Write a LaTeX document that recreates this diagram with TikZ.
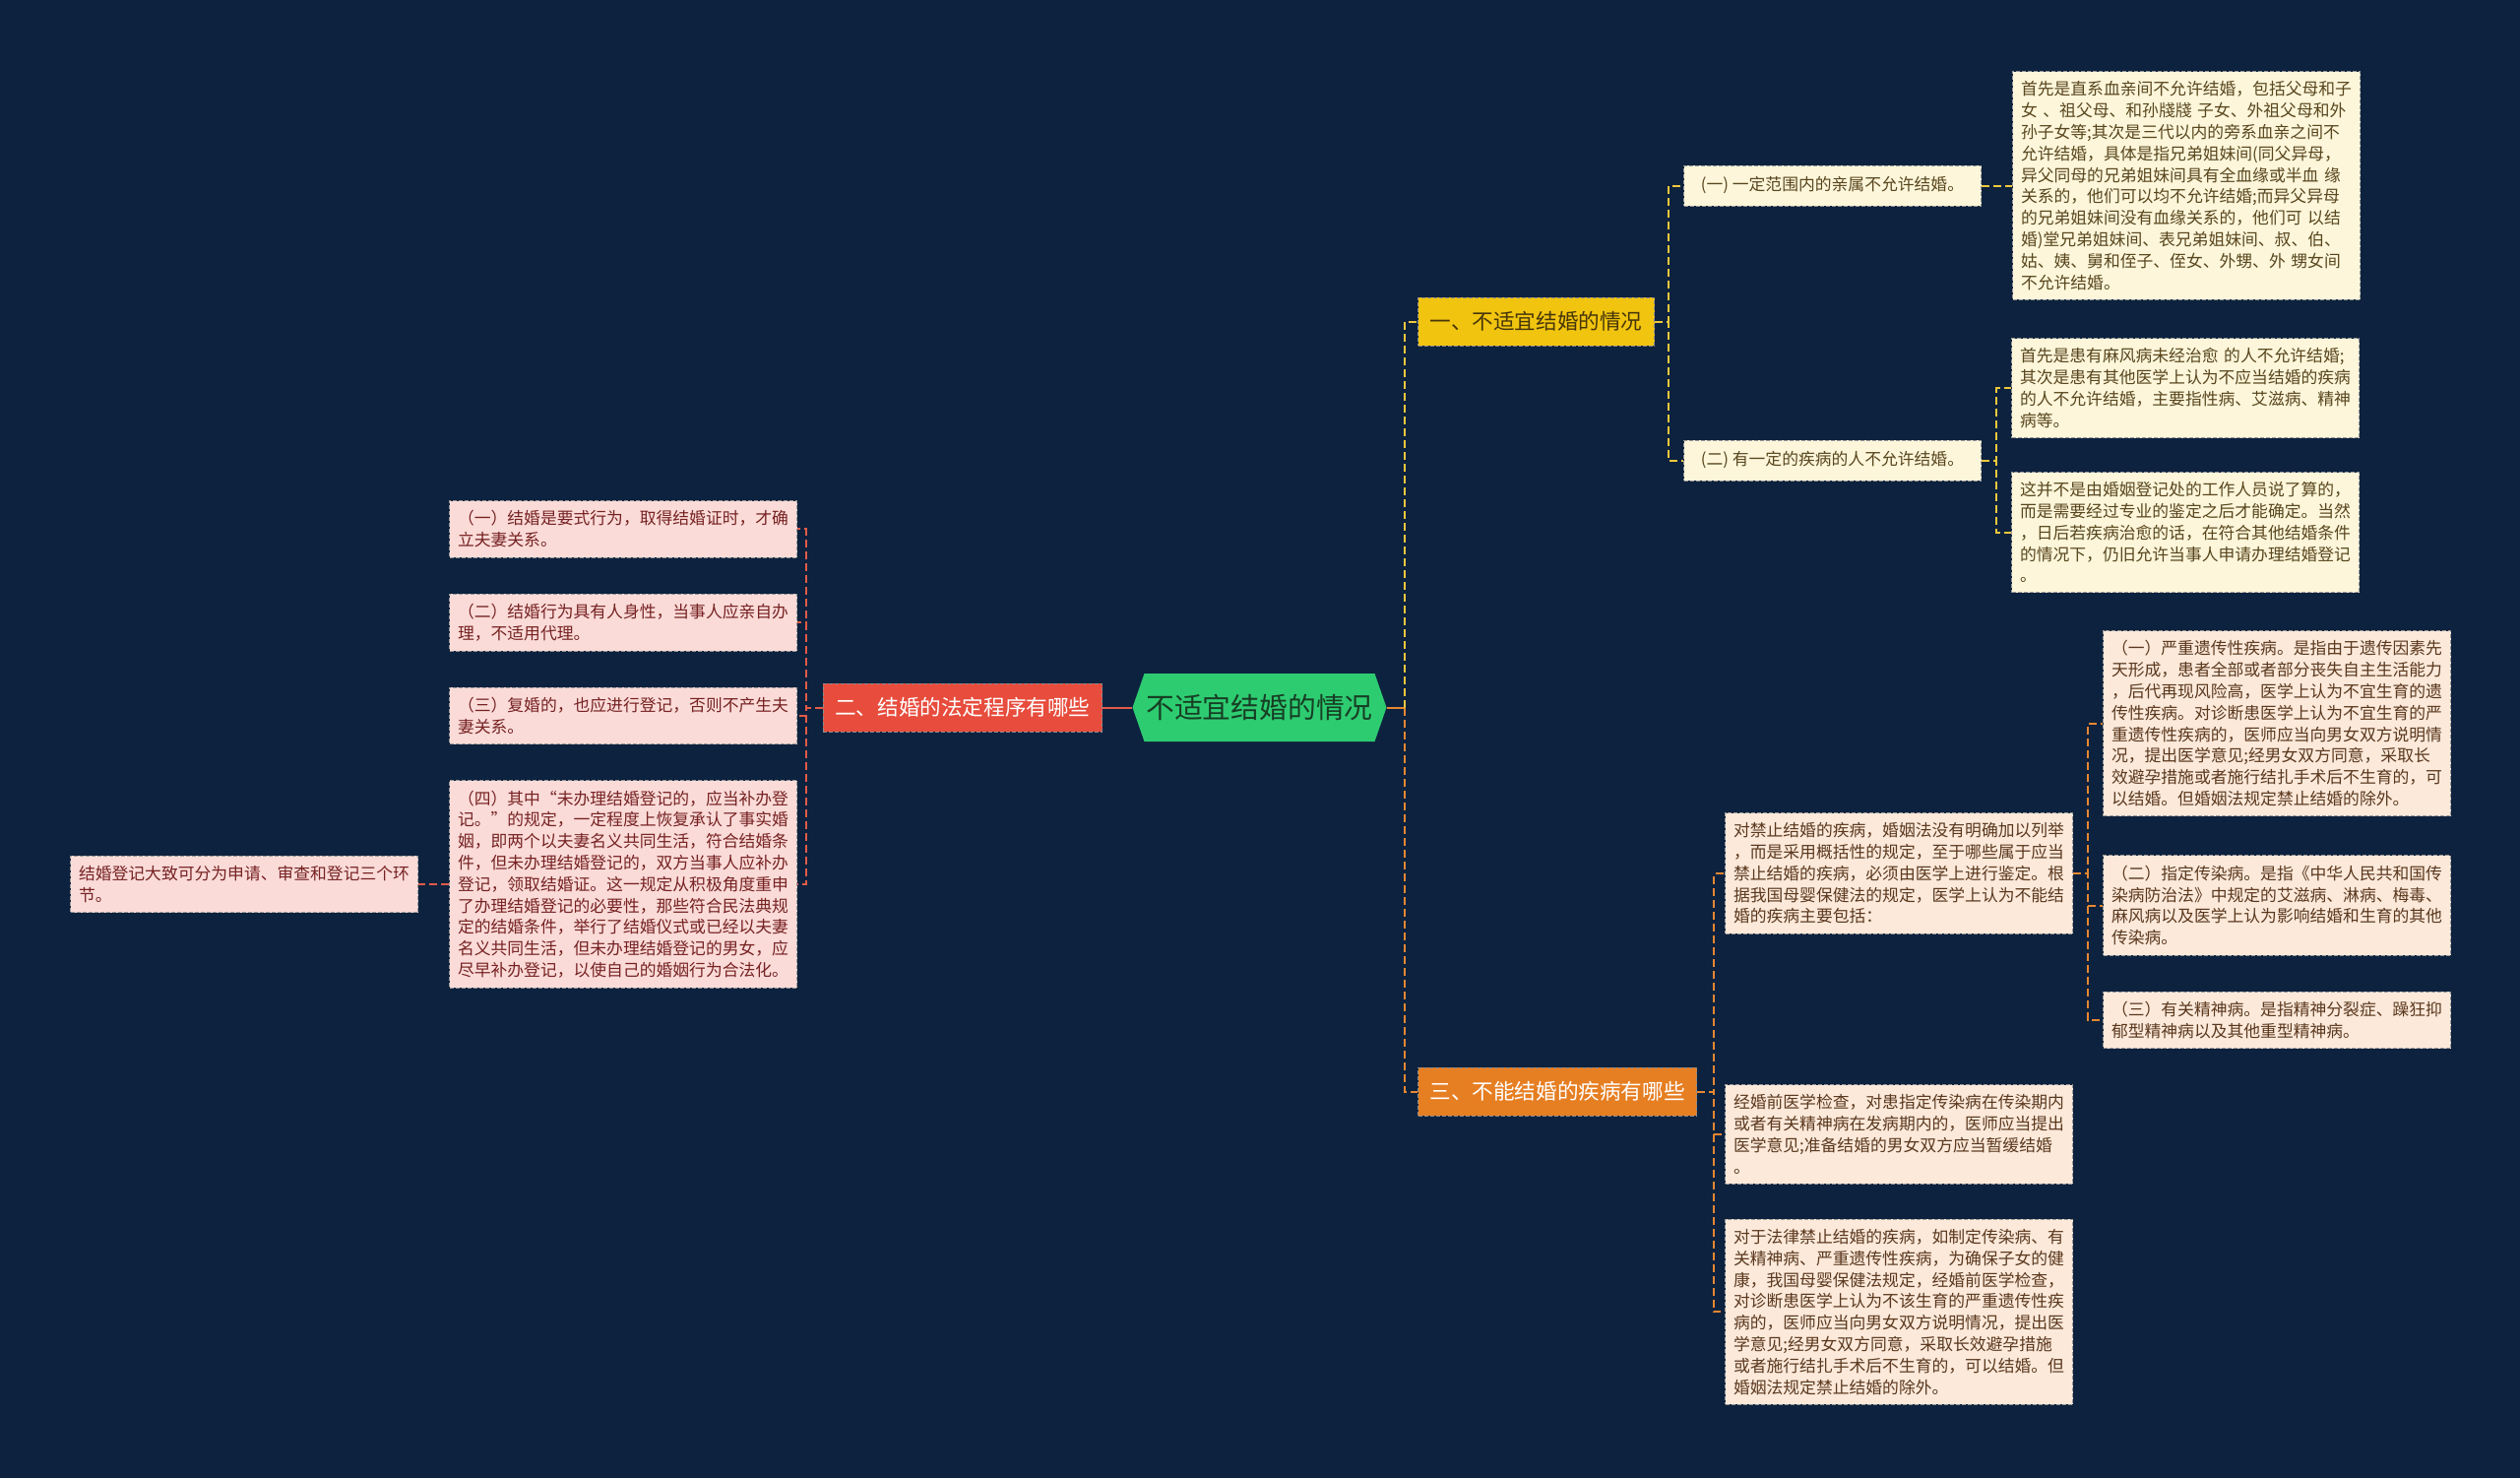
\documentclass[tikz,border=0pt]{standalone}
\usepackage{fontspec}
\setmainfont{Noto Sans CJK SC}
\usepackage{xcolor}
\usepackage{tikz}
\usetikzlibrary{positioning}
\definecolor{navy}{RGB}{13,34,62}
\definecolor{hubgreen}{RGB}{46,204,113}
\definecolor{hubink}{RGB}{22,62,36}
\definecolor{redfill}{RGB}{231,76,60}
\definecolor{redline}{RGB}{226,91,72}
\definecolor{yelfill}{RGB}{241,196,15}
\definecolor{yelink}{RGB}{70,54,10}
\definecolor{yelline}{RGB}{238,200,60}
\definecolor{orafill}{RGB}{230,126,34}
\definecolor{oraline}{RGB}{230,135,50}
\definecolor{cream}{RGB}{253,246,218}
\definecolor{creamink}{RGB}{88,70,30}
\definecolor{peach}{RGB}{252,233,218}
\definecolor{peachink}{RGB}{90,56,30}
\definecolor{rose}{RGB}{250,219,216}
\definecolor{roseink}{RGB}{118,34,34}

\begin{document}
\begin{tikzpicture}[x=0.5pt,y=-0.5pt,
  hub/.style={fill=navy,minimum width=129pt,minimum height=34.5pt,inner sep=0pt,text=hubink,
    font=\fontsize{14.4pt}{17pt}\selectfont,
    path picture={\fill[hubgreen] (path picture bounding box.west)
      -- ([xshift=6pt]path picture bounding box.north west)
      -- ([xshift=-6pt]path picture bounding box.north east)
      -- (path picture bounding box.east)
      -- ([xshift=-6pt]path picture bounding box.south east)
      -- ([xshift=6pt]path picture bounding box.south west) -- cycle;}},
  branch/.style={draw=black!45,dash pattern=on 2pt off 1pt,line width=0.5pt,minimum height=24.5pt,
    inner xsep=6pt,inner ysep=0pt,font=\fontsize{10.8pt}{13pt}\selectfont},
  topic/.style={draw=black!40,fill=cream,text=creamink,dash pattern=on 2pt off 1pt,line width=0.5pt,
    minimum height=20.5pt,minimum width=151pt,inner xsep=6pt,font=\fontsize{8.4pt}{10pt}\selectfont},
  leaf/.style={draw=black!40,dash pattern=on 2pt off 1pt,line width=0.5pt,text width=168pt,align=left,
    inner xsep=4.25pt,inner ysep=5pt,font=\fontsize{8.4pt}{10.9pt}\selectfont},
  yleaf/.style={leaf,fill=cream,text=creamink},
  oleaf/.style={leaf,fill=peach,text=peachink},
  rleaf/.style={leaf,fill=rose,text=roseink},
  link/.style={line width=1pt,dash pattern=on 4pt off 2pt}
]
\fill[navy] (0,0) rectangle (2560,1501);
\useasboundingbox (0,0) rectangle (2560,1501);

\node[hub] (hub) at (1279.5,718.5) {不适宜结婚的情况};
\node[branch,fill=redfill,text=white,anchor=east] (proc) at (1120,718.5) {二、结婚的法定程序有哪些};
\node[branch,fill=yelfill,text=yelink,anchor=west] (unfit) at (1440,326.5) {一、不适宜结婚的情况};
\node[branch,fill=orafill,text=white,anchor=west] (ill) at (1440,1108.5) {三、不能结婚的疾病有哪些};

\node[topic,anchor=west] (kin) at (1710,188.5) {(一) 一定范围内的亲属不允许结婚。};
\node[topic,anchor=west] (sick) at (1710,467.5) {(二) 有一定的疾病的人不允许结婚。};
\node[yleaf,right=15.5pt of kin] (kinA) {首先是直系血亲间不允许结婚，包括父母和子\\女 、祖父母、和孙牋牋 子女、外祖父母和外\\孙子女等;其次是三代以内的旁系血亲之间不\\允许结婚，具体是指兄弟姐妹间(同父异母，\\异父同母的兄弟姐妹间具有全血缘或半血 缘\\关系的，他们可以均不允许结婚;而异父异母\\的兄弟姐妹间没有血缘关系的，他们可 以结\\婚)堂兄弟姐妹间、表兄弟姐妹间、叔、伯、\\姑、姨、舅和侄子、侄女、外甥、外 甥女间\\不允许结婚。};
\node[yleaf,anchor=north west] (sickA) at (2043,343) {首先是患有麻风病未经治愈 的人不允许结婚;\\其次是患有其他医学上认为不应当结婚的疾病\\的人不允许结婚，主要指性病、艾滋病、精神\\病等。};
\node[yleaf,below=17pt of sickA] (sickB) {这并不是由婚姻登记处的工作人员说了算的，\\而是需要经过专业的鉴定之后才能确定。当然\\，日后若疾病治愈的话，在符合其他结婚条件\\的情况下，仍旧允许当事人申请办理结婚登记\\。};

\node[oleaf,anchor=north west] (law) at (1752,825) {对禁止结婚的疾病，婚姻法没有明确加以列举\\，而是采用概括性的规定，至于哪些属于应当\\禁止结婚的疾病，必须由医学上进行鉴定。根\\据我国母婴保健法的规定，医学上认为不能结\\婚的疾病主要包括：};
\node[oleaf,anchor=north west] (exam) at (1752,1101) {经婚前医学检查，对患指定传染病在传染期内\\或者有关精神病在发病期内的，医师应当提出\\医学意见;准备结婚的男女双方应当暂缓结婚\\。};
\node[oleaf,below=17.5pt of exam] (ban) {对于法律禁止结婚的疾病，如制定传染病、有\\关精神病、严重遗传性疾病，为确保子女的健\\康，我国母婴保健法规定，经婚前医学检查，\\对诊断患医学上认为不该生育的严重遗传性疾\\病的，医师应当向男女双方说明情况，提出医\\学意见;经男女双方同意，采取长效避孕措施\\或者施行结扎手术后不生育的，可以结婚。但\\婚姻法规定禁止结婚的除外。};
\node[oleaf,anchor=north west] (gene) at (2136,640) {（一）严重遗传性疾病。是指由于遗传因素先\\天形成，患者全部或者部分丧失自主生活能力\\，后代再现风险高，医学上认为不宜生育的遗\\传性疾病。对诊断患医学上认为不宜生育的严\\重遗传性疾病的，医师应当向男女双方说明情\\况，提出医学意见;经男女双方同意，采取长\\效避孕措施或者施行结扎手术后不生育的，可\\以结婚。但婚姻法规定禁止结婚的除外。};
\node[oleaf,below=19.5pt of gene] (infect) {（二）指定传染病。是指《中华人民共和国传\\染病防治法》中规定的艾滋病、淋病、梅毒、\\麻风病以及医学上认为影响结婚和生育的其他\\传染病。};
\node[oleaf,below=18pt of infect] (mind) {（三）有关精神病。是指精神分裂症、躁狂抑\\郁型精神病以及其他重型精神病。};

\node[rleaf,anchor=north west] (p1) at (456,508) {（一）结婚是要式行为，取得结婚证时，才确\\立夫妻关系。};
\node[rleaf,below=18pt of p1] (p2) {（二）结婚行为具有人身性，当事人应亲自办\\理，不适用代理。};
\node[rleaf,below=18pt of p2] (p3) {（三）复婚的，也应进行登记，否则不产生夫\\妻关系。};
\node[rleaf,below=18pt of p3] (p4) {（四）其中“未办理结婚登记的，应当补办登\\记。”的规定，一定程度上恢复承认了事实婚\\姻，即两个以夫妻名义共同生活，符合结婚条\\件，但未办理结婚登记的，双方当事人应补办\\登记，领取结婚证。这一规定从积极角度重申\\了办理结婚登记的必要性，那些符合民法典规\\定的结婚条件，举行了结婚仪式或已经以夫妻\\名义共同生活，但未办理结婚登记的男女，应\\尽早补办登记，以使自己的婚姻行为合法化。};
\node[rleaf,left=15.5pt of p4] (p5) {结婚登记大致可分为申请、审查和登记三个环\\节。};

\draw[redline,line width=1pt] (hub.west) -- (proc.east);
\foreach \n in {p1,p2,p3,p4} \draw[link,redline] (proc.west) -- ++(-8.5pt,0) |- (\n.east);
\draw[link,redline] (p4.west) -- (p5.east);

\draw[oraline,line width=1pt] (hub.east) -- ++(9pt,0) coordinate (fork);
\draw[link,yelline] (fork) |- (unfit.west);
\draw[link,oraline] (fork) |- (ill.west);

\foreach \n in {kin,sick} \draw[link,yelline] (unfit.east) -- ++(7pt,0) |- (\n.west);
\draw[link,yelline] (kin.east) -- (kinA.west);
\foreach \n in {sickA,sickB} \draw[link,yelline] (sick.east) -- ++(7.5pt,0) |- (\n.west);

\foreach \n in {law,exam,ban} \draw[link,oraline] (ill.east) -- ++(8.5pt,0) |- (\n.west);
\foreach \n in {gene,infect,mind} \draw[link,oraline] (law.east) -- ++(7.5pt,0) |- (\n.west);
\end{tikzpicture}
\end{document}
